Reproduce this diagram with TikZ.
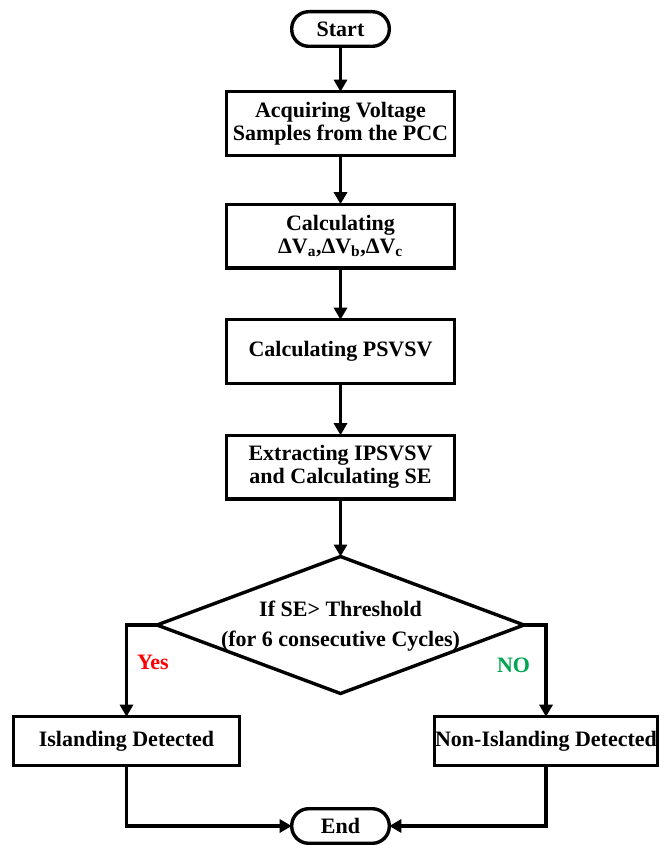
\documentclass[tikz,border=0pt]{standalone}
\usepackage{fontspec}
\setmainfont{Liberation Serif}
\usetikzlibrary{arrows.meta,shapes.geometric,calc}
\definecolor{yescol}{HTML}{FF0000}
\definecolor{nocol}{HTML}{00A651}
\begin{document}
\begin{tikzpicture}[x=1pt,y=-1pt,
  every node/.style={font=\bfseries\fontsize{22}{23}\selectfont, inner sep=0pt, outer sep=0pt},
  stepbox/.style={draw, line width=3.4pt, rectangle, minimum width=227.6pt, minimum height=63.6pt, align=center},
  termbox/.style={draw, line width=3.4pt, rectangle, rounded corners=17pt, minimum width=97.6pt, minimum height=34.6pt},
  resbox/.style={draw, line width=3.4pt, rectangle, minimum height=48.6pt, align=center},
  decbox/.style={draw, line width=3.4pt, diamond, minimum width=367pt, minimum height=137pt},
  arr/.style={line width=3.4pt, -{Triangle[length=12pt,width=13pt]}},
  lnk/.style={line width=3.4pt}]
\useasboundingbox (0,0) rectangle (659,845);
\node[termbox] (start) at (340.5,29) {Start};
\node[stepbox] (b1) at (340.5,123.5) {Acquiring Voltage\\Samples from the PCC};
\node[stepbox] (b2) at (340.5,236) {Calculating\\ΔV\textsubscript{a},ΔV\textsubscript{b},ΔV\textsubscript{c}};
\node[stepbox] (b3) at (340.5,351.5) {Calculating PSVSV};
\node[stepbox] (b4) at (340.5,467) {Extracting IPSVSV\\and Calculating SE};
\node[decbox] (dec) at (340.5,625) {};
\node[align=center, font=\bfseries\fontsize{22}{30}\selectfont] (dectxt) at (340.5,626) {If SE> Threshold\\(for 6 consecutive Cycles)};
\node[resbox, minimum width=225.6pt] (isl) at (126.5,741) {Islanding Detected};
\node[resbox, minimum width=222.6pt] (non) at (546,741) {Non-Islanding Detected};
\node[termbox] (end) at (340.5,826) {End};
\node[text=yescol, anchor=west] (yes) at (137,662) {Yes};
\node[text=nocol, anchor=west] (no) at (497,665) {NO};
\draw[arr] (start) -- (b1);
\draw[arr] (b1) -- (b2);
\draw[arr] (b2) -- (b3);
\draw[arr] (b3) -- (b4);
\draw[arr] (b4.south) -- (dec.north);
\draw[arr] (dec.west) -| (isl.north);
\draw[arr] (dec.east) -| (non.north);
\draw[arr] (isl.south) |- (end.west);
\draw[arr] (non.south) |- (end.east);
\end{tikzpicture}
\end{document}
